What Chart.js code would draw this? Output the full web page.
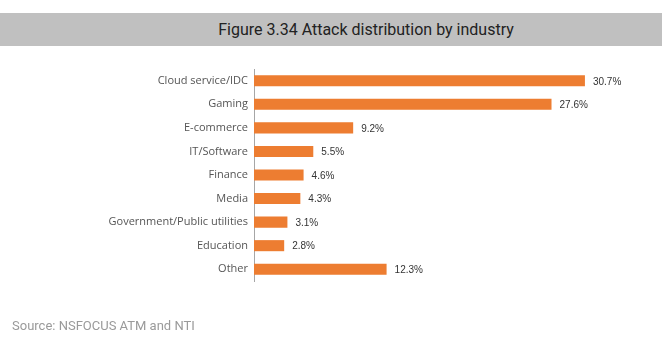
<!DOCTYPE html>
<html>
<head>
<meta charset="utf-8">
<script src="https://cdn.jsdelivr.net/npm/chart.js@4/dist/chart.umd.min.js"></script>
<style>
  html, body { margin: 0; padding: 0; background: #fff; }
  #wrap { position: relative; width: 662px; height: 345px; overflow: hidden; }
  #titlebar { position: absolute; left: 0; top: 13px; width: 662px; height: 33px; background: #c0c0c0;
    font-family: Roboto, sans-serif; font-size: 16px; color: #222; text-align: center; line-height: 33px; padding-left: 70px; box-sizing: border-box; }
  #source { position: absolute; left: 12px; top: 318px; font-family: Roboto, sans-serif; font-size: 13px; color: #9a9a9a; }
  canvas { position: absolute; left: 0; top: 0; }
</style>
</head>
<body>
<div id="wrap">
  <canvas id="c" width="662" height="345"></canvas>
  <div id="titlebar">Figure 3.34 Attack distribution by industry</div>
  <div id="source">Source: NSFOCUS ATM and NTI</div>
</div>
<script>
const categories = ["Cloud service/IDC", "Gaming", "E-commerce", "IT/Software", "Finance", "Media", "Government/Public utilities", "Education", "Other"];
const values = [30.7, 27.6, 9.2, 5.5, 4.6, 4.3, 3.1, 2.8, 12.3];
const valueLabels = ["30.7%", "27.6%", "9.2%", "5.5%", "4.6%", "4.3%", "3.1%", "2.8%", "12.3%"];

const labelPlugin = {
  id: 'valueLabels',
  afterDatasetsDraw(chart) {
    const ctx = chart.ctx;
    const meta = chart.getDatasetMeta(0);
    ctx.save();
    ctx.font = '10px "Liberation Sans", Arial, sans-serif';
    ctx.fillStyle = '#333';
    ctx.textAlign = 'left';
    ctx.textBaseline = 'middle';
    meta.data.forEach((bar, i) => {
      ctx.fillText(valueLabels[i], bar.x + 8, bar.y + 1);
    });
    ctx.restore();
  }
};

new Chart(document.getElementById('c'), {
  type: 'bar',
  data: {
    labels: categories,
    datasets: [{
      data: values,
      backgroundColor: '#ED7D31',
      borderWidth: 0,
      categoryPercentage: 1,
      barPercentage: 0.47
    }]
  },
  options: {
    indexAxis: 'y',
    responsive: false,
    animation: false,
    events: [],
    layout: { padding: { left: 0, right: 0, top: 69, bottom: 64 } },
    plugins: { legend: { display: false }, tooltip: { enabled: false } },
    scales: {
      x: { display: false, min: 0, max: 37.85 },
      y: {
        grid: { display: false, drawTicks: false },
        border: { display: true, color: '#a6a6a6', width: 1 },
        ticks: { padding: 6, color: '#555', font: { family: '"Open Sans", sans-serif', size: 11 } },
        afterFit(scale) { scale.width = 254; }
      }
    }
  },
  plugins: [labelPlugin]
});
</script>
</body>
</html>
